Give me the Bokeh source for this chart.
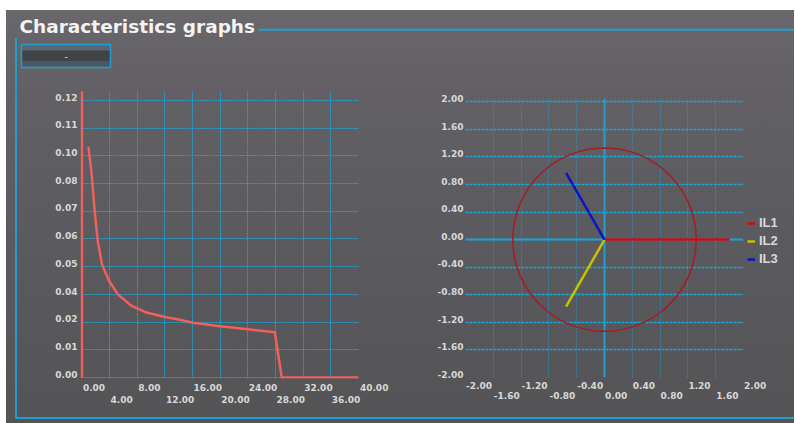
from bokeh.plotting import figure
from bokeh.models import (Range1d, FixedTicker, PrintfTickFormatter, LinearAxis, Span, Spacer,
                          Legend, LegendItem)
from bokeh.layouts import column, row
from bokeh.embed import file_html
from bokeh.resources import INLINE
from bokeh.core.properties import value

# ---------------- data ----------------
title_text = "Characteristics graphs"
button_label = "-"

# left chart: characteristic curve
curve_x = [0.95, 1.45, 1.85, 2.3, 2.9, 3.9, 5.2, 7.2, 9.1, 12.0, 14.0, 16.0, 20.0, 24.0, 27.9, 28.9, 40.0]
curve_y = [0.100, 0.087, 0.072, 0.059, 0.049, 0.042, 0.036, 0.031, 0.0284, 0.0262, 0.0251, 0.0237,
           0.0222, 0.0209, 0.0196, 0.0, 0.0]
vline_x = [0.0, 0.0]
vline_y = [0.0, 0.124]

left_y_ticks = [0.0, 0.012, 0.024, 0.036, 0.048, 0.060, 0.072, 0.084, 0.096, 0.108, 0.120]
left_x_ticks_row1 = [0, 8, 16, 24, 32, 40]
left_x_ticks_row2 = [4, 12, 20, 28, 36]
left_x_grid = [0, 4, 8, 12, 16, 20, 24, 28, 32, 36, 40]

# right chart: phasors
right_ticks = [-2.0, -1.6, -1.2, -0.8, -0.4, 0.0, 0.4, 0.8, 1.2, 1.6, 2.0]
right_x_ticks_row1 = [-2.0, -1.2, -0.4, 0.4, 1.2, 2.0]
right_x_ticks_row2 = [-1.6, -0.8, 0.0, 0.8, 1.6]
phasor_labels = ["IL1", "IL2", "IL3"]
phasor_x0 = [0.0, 0.0, 0.0]
phasor_y0 = [0.0, 0.0, 0.0]
phasor_x = [1.80, -0.553, -0.553]
phasor_y = [0.0, -0.972, 0.968]
phasor_colors = ["#d20a0a", "#c8c200", "#0a14c8"]
circle_x = [0.0]
circle_y = [0.0]
circle_r = [1.32]

# ---------------- styles ----------------
CYAN = "#1f9fcf"
GRID = "#1aa6d8"
LABEL = "#d9d9d9"
FONT = "DejaVu Sans"
TICK_PX = 9.0
NBSP = "\u00a0"
NBSP_W = 0.348 * TICK_PX


def base_fig(**kw):
    p = figure(toolbar_location=None, output_backend="svg", title=None, **kw)
    p.background_fill_alpha = 0
    p.border_fill_alpha = 0
    p.outline_line_color = None
    p.frame_align = False
    return p


def label_width_px(s):
    w = {"-": 0.416, ".": 0.381}
    return sum(w.get(c, 0.696) for c in s) * TICK_PX


def style_axis(ax, ticks, standoff=3):
    ax.ticker = FixedTicker(ticks=ticks)
    ax.formatter = PrintfTickFormatter(format="%.2f")
    ax.axis_line_color = None
    ax.major_tick_line_color = None
    ax.minor_tick_line_color = None
    ax.major_tick_out = 0
    ax.major_tick_in = 0
    ax.minor_tick_out = 0
    ax.major_label_text_font = FONT
    ax.major_label_text_font_style = "bold"
    ax.major_label_text_font_size = "%gpx" % TICK_PX
    ax.major_label_text_color = LABEL
    ax.major_label_standoff = standoff


def x_labels_left_aligned(ax, ticks, px_per_unit, range_end, standoff, pad=1.0, pad_last=True):
    """labels start just right of their tick (as in the reference); returns ticks left over"""
    style_axis(ax, ticks, standoff)
    pos, ov, rest = [], {}, []
    for t in ticks:
        s = "%.2f" % t
        w = label_width_px(s)
        p = t + (w / 2 + pad) / px_per_unit
        if p <= range_end:
            pos.append(p)
            ov[p] = s
        elif pad_last:  # keep tick in range, pad on the left instead
            pos.append(t)
            ov[t] = NBSP * int(round((w + 2 * pad) / NBSP_W)) + s
        else:
            rest.append(t)
    ax.ticker = FixedTicker(ticks=pos)
    ax.major_label_overrides = ov
    return rest


def y_labels_raised(ax, ticks, shift, standoff):
    # label digits sit on their grid line (as in the reference)
    style_axis(ax, ticks, standoff)
    pos, ov = [], {}
    for t in ticks:
        p = t + shift
        pos.append(p)
        ov[p] = "%.2f" % t
    ax.ticker = FixedTicker(ticks=pos)
    ax.major_label_overrides = ov


# ---------------- header (title + line) ----------------
header = base_fig(width=788, height=28, x_range=Range1d(0, 788), y_range=Range1d(28, 0),
                  x_axis_type=None, y_axis_type=None, min_border=0)
header.text(x=[13], y=[16], text=[title_text], text_font=value(FONT), text_font_style="bold",
            text_font_size="18.5px", text_color="#f3f3f3", text_baseline="alphabetic")
header.line(x=[252, 788], y=[19.3, 19.3], line_color=CYAN, line_width=2)

# ---------------- button strip ----------------
btn = base_fig(width=777, height=40, x_range=Range1d(0, 777), y_range=Range1d(40, 0),
               x_axis_type=None, y_axis_type=None, min_border=0)
btn.quad(left=[4, 4, 4], right=[93, 93, 93], top=[6, 12, 23], bottom=[12, 23, 29],
         fill_color=["#5d6670", "#404449", "#4b5864"], line_color=None)
btn.quad(left=[4], right=[93], top=[6], bottom=[29], fill_color=None, line_color=CYAN, line_width=1.5)
btn.text(x=[48.5], y=[17.5], text=[button_label], text_font=value(FONT), text_font_size="9px",
         text_color="#e6e6e6", text_align="center", text_baseline="middle")

# ---------------- left chart ----------------
L_FW, L_FH = 278, 288
lx0, lx1 = -0.2, 40.0
ly0, ly1 = -0.00043, 0.1243
pl = base_fig(width=404, height=339, x_range=Range1d(lx0, lx1), y_range=Range1d(ly0, ly1),
              min_border_left=63, min_border_right=63, min_border_top=12, min_border_bottom=39)
lppx = L_FW / (lx1 - lx0)
lppy = L_FH / (ly1 - ly0)
x_labels_left_aligned(pl.xaxis[0], left_x_ticks_row1, lppx, lx1, standoff=4)
ax2 = LinearAxis()
x_labels_left_aligned(ax2, left_x_ticks_row2, lppx, lx1, standoff=0)
pl.add_layout(ax2, "below")
y_labels_raised(pl.yaxis[0], left_y_ticks, 3.3 / lppy, standoff=3)
pl.xgrid.axis = None
pl.ygrid.axis = None
pl.xgrid.ticker = FixedTicker(ticks=left_x_grid)
pl.ygrid.ticker = FixedTicker(ticks=left_y_ticks)
for g in (pl.xgrid, pl.ygrid):
    g.grid_line_color = GRID
    g.grid_line_dash = "2 1"
    g.grid_line_width = 1
pl.line(vline_x, vline_y, line_color="#f0605c", line_width=2.5)
pl.line(curve_x, curve_y, line_color="#f0605c", line_width=2.5, line_join="round")

# ---------------- right chart ----------------
R_FW = 278
R_SHIFT = 0.046875
rppx = R_FW / 4.0
ry = Range1d(-2, 2 + R_SHIFT)
pr = base_fig(width=322, height=339, x_range=Range1d(-2, 2), y_range=ry,
              min_border_left=44, min_border_right=0, min_border_top=20, min_border_bottom=40)
rest_row1 = x_labels_left_aligned(pr.xaxis[0], right_x_ticks_row1, rppx, 2.0, standoff=4, pad=0.5,
                                  pad_last=False)
bx2 = LinearAxis()
x_labels_left_aligned(bx2, right_x_ticks_row2, rppx, 2.0, standoff=0, pad=0.5)
pr.add_layout(bx2, "below")
y_labels_raised(pr.yaxis[0], right_ticks, R_SHIFT, standoff=2)
pr.xgrid.axis = None
pr.ygrid.axis = None
pr.xgrid.ticker = FixedTicker(ticks=right_ticks)
pr.ygrid.ticker = FixedTicker(ticks=right_ticks)
pr.xgrid.grid_line_color = GRID
pr.xgrid.grid_line_dash = "1 2"
pr.xgrid.grid_line_width = 1
pr.ygrid.grid_line_color = GRID
pr.ygrid.grid_line_dash = "3 1"
pr.ygrid.grid_line_width = 1.3
pr.add_layout(Span(location=0, dimension="height", line_color=CYAN, line_width=2, level="underlay"))
pr.add_layout(Span(location=0, dimension="width", line_color=CYAN, line_width=2, level="underlay"))
pr.circle(x=circle_x, y=circle_y, radius=circle_r, fill_color=None, line_color="#a31c26", line_width=1.5)
pr.segment(x0=phasor_x0, y0=phasor_y0, x1=phasor_x, y1=phasor_y, line_color=phasor_colors, line_width=2.5)

# ---------------- strip right of the phasor frame: continues its x scale, holds legend ----------------
LG_W = 51
lg_x1 = 2.0 + LG_W / rppx
lg = base_fig(width=LG_W, height=339, x_range=Range1d(2.0, lg_x1), y_range=ry, y_axis_type=None,
              min_border_left=0, min_border_right=0, min_border_top=20, min_border_bottom=40)
lg.xgrid.visible = False
lg.ygrid.visible = False
x_labels_left_aligned(lg.xaxis[0], rest_row1, rppx, lg_x1, standoff=4, pad=0.5)
items = []
for lab, x0, y0, x1, y1, col in zip(phasor_labels, phasor_x0, phasor_y0, phasor_x, phasor_y, phasor_colors):
    r = lg.segment(x0=[x0], y0=[y0], x1=[x1], y1=[y1], line_color=col, line_width=2.5)
    items.append(LegendItem(label=lab, renderers=[r]))
legend = Legend(items=items, location=(4, 111), border_line_color=None, background_fill_alpha=0,
                label_text_color=LABEL, label_text_font="Liberation Sans", label_text_font_style="bold",
                label_text_font_size="13px", glyph_width=8, glyph_height=14, label_height=14,
                spacing=3, padding=0, margin=0, label_standoff=4)
lg.add_layout(legend)

# ---------------- layout ----------------
charts = row(pl, pr, lg)
framed = column(btn, charts, styles={"border-left": "2px solid " + CYAN,
                                     "border-bottom": "2px solid " + CYAN})
body = row(Spacer(width=9, height=1), framed)
panel = column(header, body, Spacer(width=1, height=4), styles={
    "background": "linear-gradient(180deg, #69676b 0%, #626065 20%, #5b5a5e 55%, #545356 100%)"})
page = column(Spacer(width=1, height=10), row(Spacer(width=6, height=1), panel))

open("out.html", "w").write(file_html(page, INLINE))
